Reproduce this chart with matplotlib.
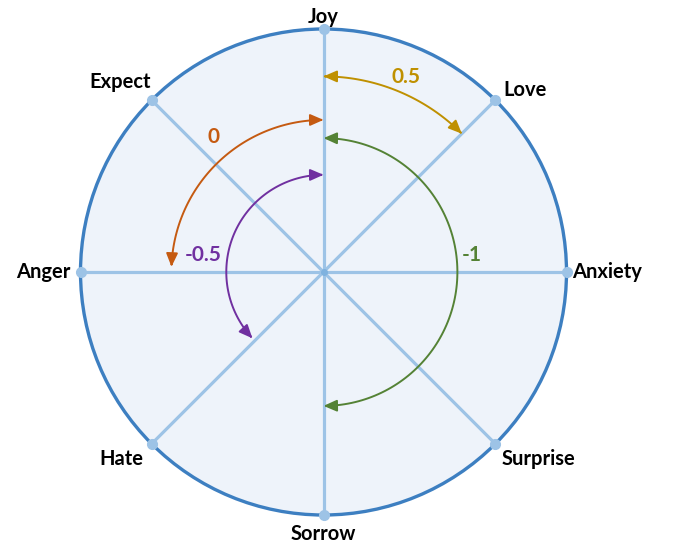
import numpy as np
import matplotlib
matplotlib.use("Agg")
import matplotlib.pyplot as plt
from matplotlib.patches import Circle, FancyArrowPatch
from matplotlib.path import Path

# spokes (emotion categories) and their angles in degrees
emotions = ["Joy", "Love", "Anxiety", "Surprise", "Sorrow", "Hate", "Anger", "Expect"]
angles = [90, 45, 0, -45, -90, -135, 180, 135]

# arcs: label, start angle, end angle, radius (fraction of circle radius)
arc_labels = ["0.5", "0", "-1", "-0.5"]
arc_start = [90, 90, 90, 90]
arc_end = [45, 178, -90, 223]
arc_radius = [0.805, 0.626, 0.551, 0.40]
arc_colors = ["#bf9000", "#c55a11", "#548235", "#7030a0"]
# label positions (angle, radius)
lab_angle = [67, 129, 6.5, 172]
lab_radius = [0.87, 0.717, 0.613, 0.50]

# where each category label sits relative to the spoke end (pixels) and alignment
lab_off = [(0, 12), (8, 10), (6, 0), (6, -15), (0, -19), (-8, -15), (-10, 0), (-1, 18)]
lab_ha = ["center", "left", "left", "left", "center", "right", "right", "right"]

W, H = 673, 551
cx, cy, R = 323.5, 272, 243.0

fig = plt.figure(figsize=(W / 100, H / 100), dpi=100)
ax = fig.add_axes([0, 0, 1, 1])
ax.set_xlim(-cx / R, (W - cx) / R)
ax.set_ylim(-(H - cy) / R, cy / R)
ax.axis("off")

spoke_col = "#9dc3e6"
ax.add_patch(Circle((0, 0), 1, facecolor="#eef3fa", edgecolor="#3d7fc1", lw=2.4, zorder=1))

for name, a, off, ha in zip(emotions, angles, lab_off, lab_ha):
    x, y = np.cos(np.radians(a)), np.sin(np.radians(a))
    ax.plot([0, x], [0, y], color=spoke_col, lw=2.3, zorder=2, solid_capstyle="butt")
    ax.plot([x], [y], "o", color=spoke_col, ms=7, zorder=3)
    ax.annotate(name, (x, y), xytext=off, textcoords="offset pixels",
                ha=ha, va="center", fontsize=14.5, fontweight="bold",
                family=["Lato", "DejaVu Sans"], color="black")
ax.plot([0], [0], "o", color="#7fb2df", ms=4, zorder=3)

for lab, a0, a1, r, col, la, lr in zip(arc_labels, arc_start, arc_end, arc_radius,
                                        arc_colors, lab_angle, lab_radius):
    t = np.radians(np.linspace(a0, a1, 120))
    verts = np.column_stack([r * np.cos(t), r * np.sin(t)])
    arr = FancyArrowPatch(path=Path(verts), arrowstyle="<|-|>,head_length=0.8,head_width=0.35",
                          mutation_scale=10, color=col, lw=1.4, zorder=4)
    ax.add_patch(arr)
    ax.text(lr * np.cos(np.radians(la)), lr * np.sin(np.radians(la)), lab,
            color=col, fontsize=15, fontweight="bold", ha="center", va="center",
            family=["Lato", "DejaVu Sans"], zorder=5)

fig.savefig("out.png", dpi=100)
